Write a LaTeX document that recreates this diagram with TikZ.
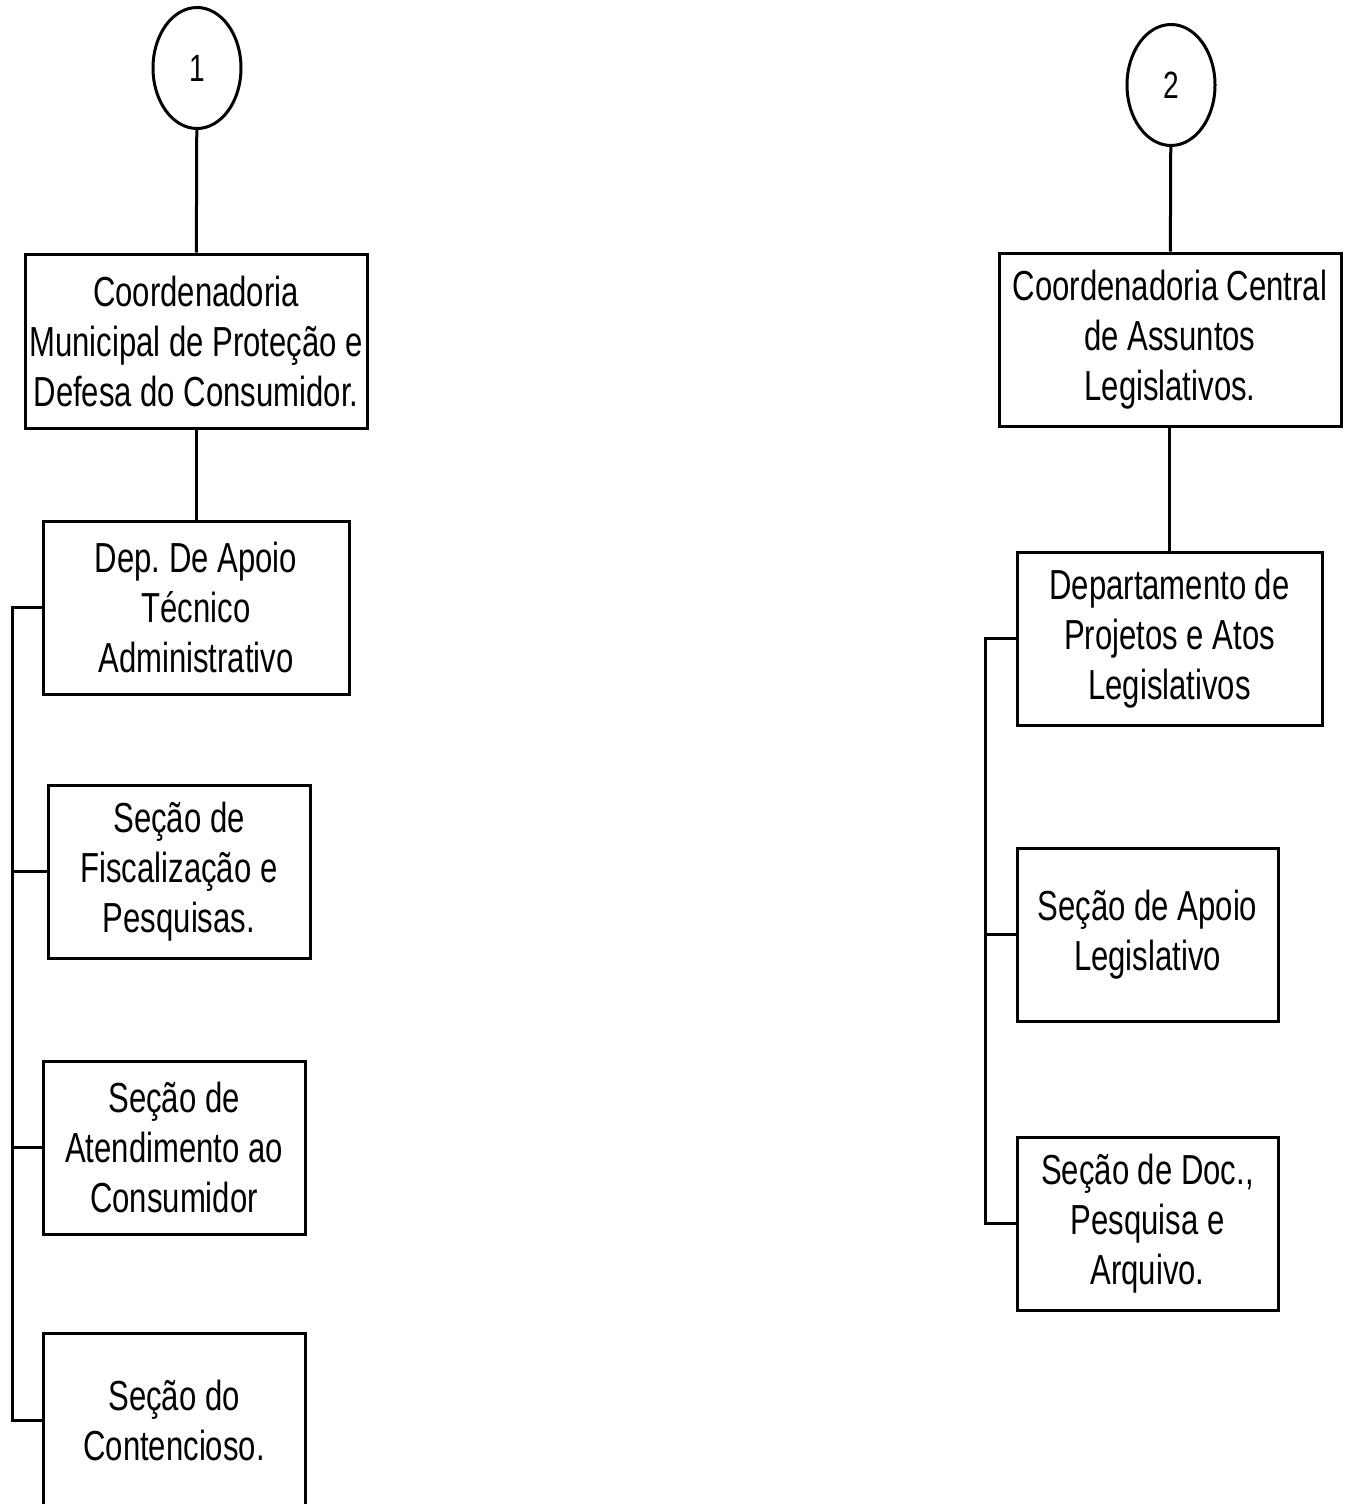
\documentclass[tikz,border=0pt]{standalone}
\usepackage{fontspec}
\setmainfont{Liberation Sans}[FakeStretch=0.74]
\usetikzlibrary{shapes.geometric}
\frenchspacing

\tikzset{
  caixa/.style={draw, line width=3pt, rectangle, inner sep=0pt, align=center,
    font=\fontsize{42}{50}\selectfont},
  conector/.style={draw, line width=3pt, ellipse, minimum width=88, minimum height=121,
    inner sep=0pt, font=\fontsize{38}{42}\selectfont},
  linha/.style={line width=3pt}
}

\begin{document}
\begin{tikzpicture}[x=1pt, y=-1pt]
\useasboundingbox (0,0) rectangle (1349,1504);
\clip (0,0) rectangle (1349,1504);

% ramo 1
\node[conector] (c1) at (197,68) {1};
\node[caixa, minimum width=342, minimum height=174] (cmp) at (196,341)
  {Coordenadoria\\Municipal de Proteção e\\Defesa do Consumidor.};
\node[caixa, minimum width=306, minimum height=173] (dat) at (196,607.5)
  {Dep. De Apoio\\Técnico\\Administrativo};
\node[caixa, minimum width=262, minimum height=173] (sfp) at (179,871.5)
  {Seção de\\Fiscalização e\\Pesquisas.};
\node[caixa, minimum width=262, minimum height=173] (sac) at (174,1147.5)
  {Seção de\\Atendimento ao\\Consumidor};
\node[caixa, minimum width=262, minimum height=174] (sdc) at (174,1420)
  {Seção do\\Contencioso.};

\draw[linha] (c1) -- (cmp);
\draw[linha] (cmp) -- (dat);
\coordinate (bus1) at (12,607.5);
\draw[linha] (dat.west) -- (bus1) |- (sdc.west);
\draw[linha] (bus1 |- sfp.west) -- (sfp.west);
\draw[linha] (bus1 |- sac.west) -- (sac.west);

% ramo 2
\node[conector] (c2) at (1171,85) {2};
\node[caixa, minimum width=342, minimum height=173] (cca) at (1170,339.5)
  {Coordenadoria Central\\de Assuntos\\Legislativos.};
\node[caixa, minimum width=305, minimum height=173] (dpa) at (1169.5,638.5)
  {Departamento de\\Projetos e Atos\\Legislativos};
\node[caixa, minimum width=261, minimum height=173] (sal) at (1147.5,934.5)
  {Seção de Apoio\\Legislativo};
\node[caixa, minimum width=261, minimum height=173] (sdp) at (1147.5,1223.5)
  {Seção de Doc.,\\Pesquisa e\\Arquivo.};

\draw[linha] (c2) -- (cca);
\draw[linha] (cca.south -| dpa.north) -- (dpa.north);
\coordinate (bus2) at (985,638.5);
\draw[linha] (dpa.west) -- (bus2) |- (sdp.west);
\draw[linha] (bus2 |- sal.west) -- (sal.west);
\end{tikzpicture}
\end{document}
